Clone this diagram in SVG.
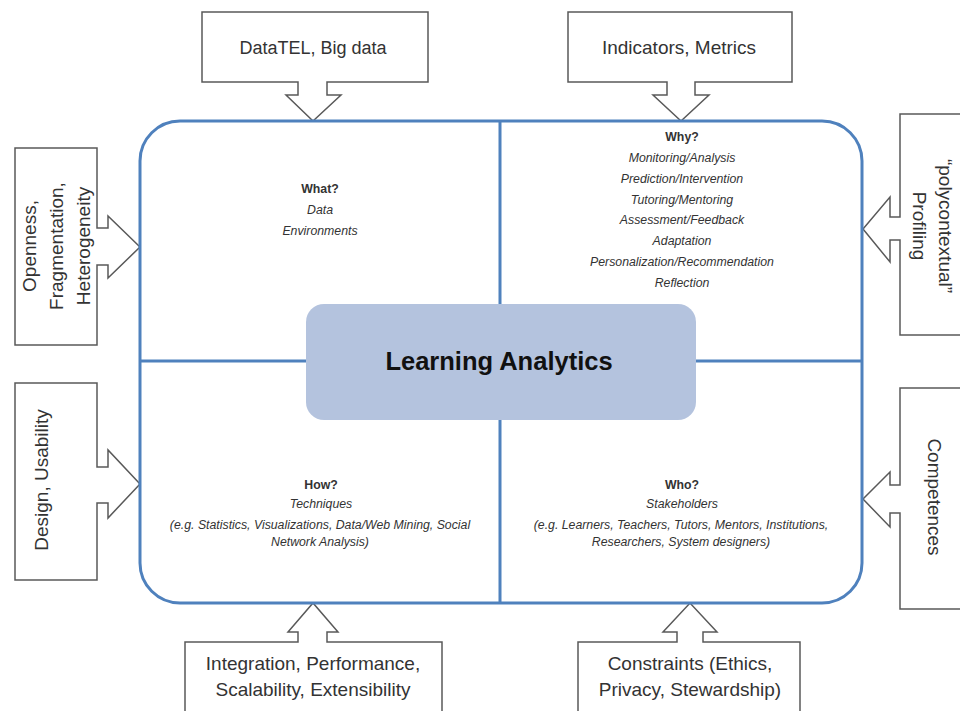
<svg xmlns="http://www.w3.org/2000/svg" width="960" height="711" viewBox="0 0 960 711">
<style>
.co{fill:#fff;stroke:#595959;stroke-width:1.5;stroke-linejoin:miter}
.ct{font-family:"Liberation Sans",Arial,sans-serif;font-size:19px;fill:#333;text-anchor:middle}
.q{font-family:"Liberation Sans",Arial,sans-serif;font-size:12.3px;fill:#333;text-anchor:middle}
.qb{font-weight:bold}
.qi{font-style:italic}
.blue{fill:none;stroke:#4f81bd;stroke-width:3}
</style>
<rect width="960" height="711" fill="#fff"/>
<g id="c-datatel">
<path class="co" d="M202,12 H428 V82 H327 V95 H341 L313,121 L286,95 H298 V82 H202 Z"/>
<text class="ct" x="313" y="54" style="font-size:18px">DataTEL, Big data</text>
</g>
<g id="c-indicators">
<path class="co" d="M568,12 H792 V82 H695 V95 H709 L681,121 L653,95 H667 V82 H568 Z"/>
<text class="ct" x="679" y="54">Indicators, Metrics</text>
</g>
<g id="c-openness">
<path class="co" d="M15,148 H97 V228 H108 V216 L140,247 L108,278 V265 H97 V345 H15 Z"/>
<text class="ct" transform="translate(56,246) rotate(-90)"><tspan x="0" y="-20">Openness,</tspan><tspan x="0" y="7">Fragmentation,</tspan><tspan x="0" y="34">Heterogeneity</tspan></text>
</g>
<g id="c-design">
<path class="co" d="M15,383 H97 V467 H108 V450 L140,484 L108,518 V503 H97 V580 H15 Z"/>
<text class="ct" transform="translate(48,480) rotate(-90)" x="0" y="0">Design, Usability</text>
</g>
<g id="c-profiling">
<path class="co" d="M965,114 H900 V217 H890 V197 L863,229 L890,262 V240 H900 V335 H965"/>
<text class="ct" transform="translate(932,226) rotate(90)"><tspan x="0" y="-7">“polycontextual”</tspan><tspan x="0" y="19">Profiling</tspan></text>
</g>
<g id="c-competences">
<path class="co" d="M965,388 H900 V485 H890 V472 L863,499 L890,527 V513 H900 V609 H965"/>
<text class="ct" transform="translate(928,497) rotate(90)" x="0" y="0">Competences</text>
</g>
<g id="c-integration">
<path class="co" d="M185,720 V642 H298 V632 H288 L313,603 L338,632 H327 V642 H442 V720"/>
<text class="ct" x="313" y="670">Integration, Performance,</text>
<text class="ct" x="313" y="696">Scalability, Extensibility</text>
</g>
<g id="c-constraints">
<path class="co" d="M578,720 V642 H677 V632 H663 L690,603 L717,632 H703 V642 H800 V720"/>
<text class="ct" x="690" y="670">Constraints (Ethics,</text>
<text class="ct" x="690" y="696">Privacy, Stewardship)</text>
</g>
<g id="connectors">
<rect class="blue" x="140" y="121" width="722" height="482" rx="40" ry="40"/>
<line class="blue" x1="500" y1="121" x2="500" y2="603"/>
<line class="blue" x1="140" y1="361" x2="862" y2="361"/>
</g>
<g id="center">
<rect x="306" y="304" width="390" height="116" rx="18" ry="18" fill="#b4c3de"/>
<text x="499" y="370" font-family="Liberation Sans,Arial,sans-serif" font-size="25.5" font-weight="bold" fill="#111" text-anchor="middle">Learning Analytics</text>
</g>
<g id="q-what">
<text class="q qb" x="320" y="193">What?</text>
<text class="q qi" x="320" y="214">Data</text>
<text class="q qi" x="320" y="235">Environments</text>
</g>
<g id="q-why">
<text class="q qb" x="682" y="141">Why?</text>
<text class="q qi" x="682" y="162">Monitoring/Analysis</text>
<text class="q qi" x="682" y="183">Prediction/Intervention</text>
<text class="q qi" x="682" y="204">Tutoring/Mentoring</text>
<text class="q qi" x="682" y="224">Assessment/Feedback</text>
<text class="q qi" x="682" y="245">Adaptation</text>
<text class="q qi" x="682" y="266">Personalization/Recommendation</text>
<text class="q qi" x="682" y="287">Reflection</text>
</g>
<g id="q-how">
<text class="q qb" x="321" y="489">How?</text>
<text class="q qi" x="321" y="508">Techniques</text>
<text class="q qi" x="320" y="529">(e.g. Statistics, Visualizations, Data/Web Mining, Social</text>
<text class="q qi" x="320" y="546">Network Analysis)</text>
</g>
<g id="q-who">
<text class="q qb" x="682" y="489">Who?</text>
<text class="q qi" x="682" y="508">Stakeholders</text>
<text class="q qi" x="681" y="529">(e.g. Learners, Teachers, Tutors, Mentors, Institutions,</text>
<text class="q qi" x="681" y="546">Researchers, System designers)</text>
</g>
</svg>
